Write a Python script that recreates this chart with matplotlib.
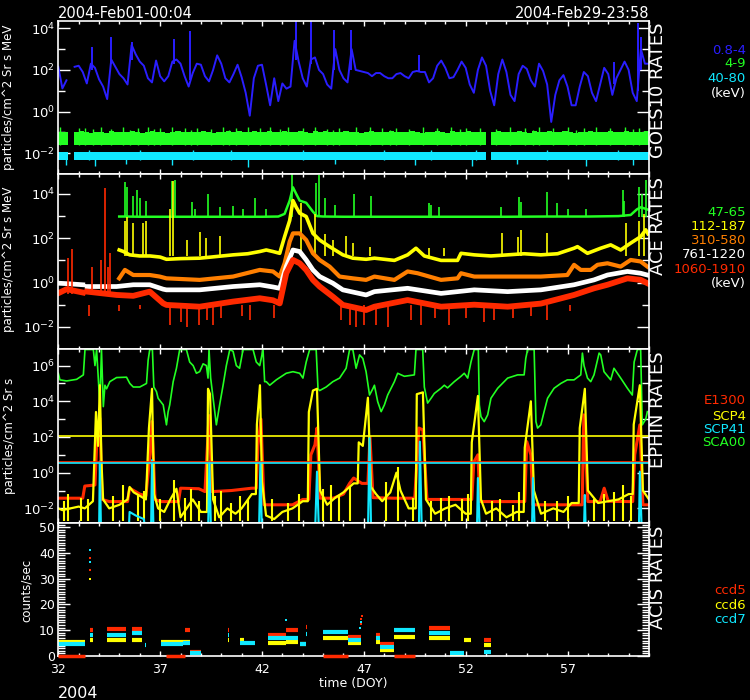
import numpy as np
import matplotlib
matplotlib.use("Agg")
import matplotlib.pyplot as plt
from matplotlib.ticker import FixedLocator, MultipleLocator, NullFormatter, FuncFormatter

nan = np.nan

# ======================= DATA =======================
doy_major_ticks = [32, 37, 42, 47, 52, 57]

# ---- GOES-10 (particles/cm2 Sr s MeV), log10 values ----
goes_time = np.linspace(32.0, 61.0, 146)
goes_p08_4_log10 = [
    2.15, 1.11, 1.5, nan, 2.15, 2.2, 1.9, 1.35, 2.3, 2.1,
    1.55, 1.2, 0.6, 2.5, 2.15, 1.8, 1.6, 1.3, 3.2, 2.75,
    2.4, 2.2, 1.6, 1.4, 2.45, 1.7, 1.45, 1.7, 2.4, 2.5,
    2.3, 1.7, 1.2, 1.85, 2.3, 2.25, 1.7, 1.45, 2.0, 2.7,
    2.3, 1.6, 1.4, 1.8, 2.25, 1.65, 0.9, -0.2, 1.6, 2.2,
    2.25, 1.3, 0.3, 1.6, 0.5, 1.35, 1.1, 1.2, 3.4, 2.4,
    1.6, 1.2, 2.5, 2.6, 2.0, 1.8, 1.3, 1.1, 3.0, 2.0,
    1.6, 1.4, 3.0, 2.0, 1.95, 1.9, 1.85, 1.7, 1.85, 1.85,
    1.7, 1.6, 1.6, 1.8, 1.85, 1.7, 1.6, 1.9, 1.95, 1.9,
    1.9, 1.4, 1.6, 2.2, 2.45, 2.1, 1.6, 1.65, 2.0, 2.4,
    2.1, 1.3, 0.9, 2.0, 2.6, 2.2, 1.0, 0.3, 1.8, 2.5,
    1.9, 0.8, 0.5, 1.8, 2.2, 2.05, 1.5, 1.2, 2.3, 1.95,
    1.3, -0.5, 0.8, 1.5, 1.75, 1.2, 0.3, 0.3, 1.2, 1.9,
    1.7, 0.9, 0.5, 1.3, 2.1, 1.8, 0.8, 1.6, 2.0, 2.4,
    2.0, 0.9, 0.5, 3.0, 2.3, 2.3]
goes_p08_4_spike_time = [33.63, 34.58, 35.62, 37.69, 38.45, 43.65, 44.42, 45.53,
                         46.38, 49.73, 59.29, 60.45, 60.6]
goes_p08_4_spike_lo_log10 = [2.0, 2.3, 2.5, 2.3, 1.5, 2.5, 2.3, 2.0, 2.0, 1.9, 1.3, 1.0, 2.0]
goes_p08_4_spike_hi_log10 = [3.1, 3.6, 3.35, 3.5, 3.85, 4.4, 4.4, 3.9, 3.9, 2.7, 2.4, 4.25, 3.6]

goes_band_time = np.linspace(32.0, 60.75, 116)
goes_4_9_lo = 0.026
goes_4_9_hi_log10 = [
    -0.99, -0.96, nan, -1.0, -0.94, -0.98, -1.02, -0.96,
    -0.97, -1.01, -0.94, -0.99, -0.96, -1.0, -0.95, -0.98,
    -1.01, -0.97, -0.94, -0.99, -0.96, -1.02, -0.98, -0.94,
    -0.97, -1.0, -0.96, -0.99, -0.94, -0.98, -1.01, -0.96,
    -0.99, -0.95, -0.98, -0.94, -1.0, -0.97, -0.93, -0.96,
    -0.98, -0.94, -0.97, -1.0, -0.94, -0.96, -0.99, -0.95,
    -0.97, -1.01, -0.95, -0.98, -0.94, -0.99, -0.96, -1.0,
    -0.94, -0.98, -0.96, -1.01, -0.97, -0.94, -0.99, -0.96,
    -0.98, -0.95, -1.0, -0.96, -0.99, -0.94, -0.97, -1.01,
    -0.96, -0.99, -0.94, -0.98, -1.01, -0.95, -0.97, -1.0,
    -0.94, -0.98, -0.96, -0.99, nan, -0.97, -0.94, -1.0,
    -0.96, -0.99, -0.95, -0.98, -1.01, -0.94, -0.97, -0.99,
    -0.95, -0.98, -1.0, -0.94, -0.97, -1.01, -0.96, -0.99,
    -0.94, -0.98, -0.96, -1.0, -0.95, -0.99, -0.97, -0.94,
    -0.98, -0.96, -1.0, -0.95]
goes_4_9_spike_time = [32.1, 33.0, 33.3, 33.7, 34.1, 34.6, 35.2, 35.5, 35.9, 36.4, 36.7, 37.0,
                       37.6, 38.2, 38.5, 38.8, 39.5, 40.1, 40.4, 40.7, 41.3, 41.9, 42.4, 42.9,
                       43.3, 44.0, 44.6, 45.2, 45.5, 45.8, 46.6, 47.3, 47.9, 48.3, 48.6, 49.2,
                       49.9, 50.6, 51.3, 51.7, 52.0, 52.7, 53.5, 54.2, 54.9, 55.3, 55.6, 56.3,
                       57.0, 57.4, 57.8, 58.4, 59.1, 59.8, 60.2, 60.5]
goes_4_9_spike_hi_log10 = [-0.72, -0.78, -0.8, -0.86, -0.75, -0.82, -0.76, -0.88, -0.8, -0.74,
                           -0.86, -0.79, -0.72, -0.8, -0.87, -0.77, -0.83, -0.76, -0.88, -0.8,
                           -0.73, -0.78, -0.75, -0.86, -0.72, -0.8, -0.76, -0.82, -0.88, -0.78,
                           -0.74, -0.72, -0.8, -0.87, -0.77, -0.82, -0.76, -0.79, -0.74, -0.86,
                           -0.8, -0.77, -0.82, -0.76, -0.8, -0.88, -0.75, -0.79, -0.73, -0.87,
                           -0.8, -0.76, -0.81, -0.74, -0.86, -0.78]
goes_40_80_lo = 0.0049
goes_40_80_hi = 0.0115
goes_40_80_up_time = [33.5, 36.0, 38.6, 40.5, 44.0, 48.0, 50.3, 52.5, 56.0, 59.5]
goes_40_80_up_log10 = [-1.85, -1.87, -1.86, -1.85, -1.84, -1.86, -1.85, -1.87, -1.85, -1.86]
goes_40_80_down_time = [32.4, 33.8, 35.3, 37.6, 41.3, 45.6, 49.5, 52.3, 54.5, 57.9, 60.2]
goes_40_80_down_log10 = [-2.55, -2.6, -2.5, -2.55, -2.65, -2.5, -2.55, -2.6, -2.5, -2.6, -2.55]

# ---- ACE (particles/cm2 Sr s MeV), log10 values ----
ace_47_65_time = [34.99, 35.3, 36.0, 37.0, 38.0, 39.0, 40.0, 41.0, 42.0, 42.8, 43.11, 43.36,
                  43.52, 43.68, 43.85, 44.17, 44.5, 44.7, 45.0, 46.0, 47.0, 48.0, 50.0, 52.0,
                  54.0, 56.0, 58.0, 59.5, 60.1, 60.4, 60.6, 60.92]
ace_47_65_log10 = [2.98, 2.98, 2.97, 2.97, 2.97, 2.97, 2.97, 2.97, 2.97, 2.98, 3.1, 3.7,
                   4.3, 4.0, 3.7, 3.6, 3.2, 3.0, 2.98, 2.97, 2.97, 2.97, 2.97, 2.97,
                   2.97, 2.98, 2.98, 3.0, 3.05, 3.3, 3.4, 3.3]
ace_47_65_spike_time = [35.27, 35.35, 35.68, 35.84, 36.0, 36.33, 37.56, 37.72, 38.54, 38.7,
                        39.35, 39.92, 40.58, 41.07, 41.64, 42.21, 43.45, 44.66, 44.82, 45.07,
                        45.56, 46.54, 47.36, 50.2, 50.3, 50.7, 53.73, 54.63, 54.71, 55.98,
                        56.47, 57.0, 57.9, 59.7, 59.78, 60.51, 60.67, 60.84]
ace_47_65_spike_log10 = [4.56, 4.3, 3.9, 4.2, 3.8, 3.7, 4.6, 4.65, 3.65, 3.3,
                         4.0, 3.4, 3.45, 3.3, 3.8, 3.3, 4.9, 4.5, 4.85, 3.8,
                         3.5, 4.0, 3.9, 3.58, 3.5, 3.4, 3.4, 3.88, 3.65, 4.1,
                         3.6, 3.3, 3.3, 4.2, 3.7, 4.33, 4.0, 4.63]
ace_47_65_base = 950.0

ace_112_187_time = [34.99, 35.2, 35.5, 36.0, 36.5, 37.0, 37.31, 38.0, 38.94, 39.5,
                    40.58, 41.3, 41.89, 42.21, 42.54, 42.87, 43.11, 43.36, 43.52, 43.68,
                    43.85, 44.17, 44.5, 44.83, 45.32, 45.97, 46.46, 47.11, 47.52, 48.5,
                    49.15, 49.56, 49.97, 50.79, 51.6, 51.77, 52.42, 53.24, 54.06, 54.87,
                    55.69, 56.51, 57.32, 57.49, 57.98, 58.63, 59.12, 59.61, 60.1, 60.59,
                    60.84, 60.95]
ace_112_187_log10 = [1.47, 1.4, 1.25, 1.2, 1.2, 1.15, 1.05, 1.08, 1.1, 1.15,
                     1.25, 1.3, 1.4, 1.47, 1.4, 1.32, 2.07, 2.8, 3.7, 3.4,
                     3.13, 2.98, 2.22, 1.92, 1.62, 1.25, 1.1, 1.05, 1.1, 1.0,
                     1.25, 1.55, 1.2, 1.0, 1.0, 1.32, 1.25, 1.2, 1.25, 1.3,
                     1.25, 1.3, 1.55, 1.62, 1.32, 1.55, 1.7, 1.47, 1.78, 2.07,
                     2.38, 2.2]
ace_112_187_spike_time = [35.27, 35.35, 35.68, 36.17, 36.33, 37.48, 37.64, 38.3, 38.94,
                          39.27, 39.92, 43.93, 44.58, 45.07, 45.48, 46.1, 46.46, 47.28,
                          50.22, 50.95, 53.8, 54.55, 54.71, 55.98, 59.85, 60.51, 60.76]
ace_112_187_spike_log10 = [2.8, 2.97, 2.7, 2.68, 2.8, 3.3, 4.6, 1.9, 2.3,
                           2.0, 2.1, 3.6, 3.1, 2.2, 1.9, 2.1, 1.8, 1.6,
                           1.55, 1.55, 2.22, 2.07, 2.38, 2.22, 2.68, 2.8, 3.1]
ace_112_187_base = 15.0

ace_310_580_time = [34.99, 35.27, 35.68, 36.49, 36.98, 37.31, 38.94, 40.58, 41.89, 42.54,
                    42.87, 43.11, 43.36, 43.52, 43.85, 44.17, 44.5, 44.83, 45.32, 45.81,
                    46.46, 47.11, 47.52, 48.5, 49.15, 49.64, 50.79, 51.6, 51.77, 52.42,
                    54.06, 55.69, 56.99, 57.32, 57.65, 58.14, 58.47, 58.96, 59.61, 60.1,
                    60.59, 60.92]
ace_310_580_log10 = [0.19, 0.57, 0.34, 0.34, 0.27, 0.19, 0.12, 0.27, 0.57, 0.5,
                     0.27, 0.87, 1.85, 2.22, 2.22, 1.92, 1.32, 1.02, 0.72, 0.27,
                     0.19, 0.12, 0.27, 0.12, 0.5, 0.42, 0.12, 0.19, 0.42, 0.27,
                     0.27, 0.27, 0.34, 0.8, 0.57, 0.57, 0.8, 0.87, 0.72, 1.02,
                     0.95, 0.72]

ace_low_time = [32.0, 32.41, 33.2, 33.3, 33.42, 34.86, 35.68, 36.49, 37.15, 37.31,
                38.94, 40.58, 41.89, 42.54, 42.87, 43.19, 43.52, 43.85, 44.17, 44.5,
                44.83, 45.48, 45.97, 47.11, 47.52, 49.15, 50.79, 52.42, 54.06, 55.69,
                57.32, 58.3, 58.96, 59.94, 60.59, 60.92]
ace_761_1220_log10 = [-0.03, -0.05, -0.1, nan, -0.18, -0.18, -0.1, -0.1, -0.3, -0.33,
                      -0.33, -0.18, -0.1, -0.2, -0.26, 0.72, 1.47, 1.4, 1.02, 0.57,
                      0.27, -0.03, -0.33, -0.56, -0.41, -0.26, -0.49, -0.33, -0.41, -0.33,
                      -0.1, 0.12, 0.34, 0.5, 0.42, 0.34]
ace_1060_1910_log10 = [-0.48, -0.3, -0.45, nan, -0.41, -0.56, -0.6, -0.41, -0.94, -1.01,
                       -1.09, -0.86, -0.71, -0.8, -0.94, 0.42, 1.02, 0.87, 0.57, 0.12,
                       -0.18, -0.64, -1.01, -1.24, -1.09, -0.79, -1.09, -1.0, -1.09, -0.95,
                       -0.56, -0.26, -0.1, 0.19, 0.12, -0.03]
ace_1060_1910_up_time = [32.49, 32.65, 33.65, 34.08, 34.29, 34.45, 34.53]
ace_1060_1910_up_log10 = [1.1, 1.5, 0.7, 1.0, 4.26, 0.7, 1.32]
ace_1060_1910_down_time = [33.5, 35.0, 36.0, 37.5, 38.0, 38.3, 38.9, 39.3, 39.6, 40.0,
                           41.0, 41.4, 42.6, 45.9, 46.3, 46.6, 47.0, 47.6, 48.2, 49.3,
                           49.8, 50.5, 51.2, 52.0, 52.9, 53.4, 54.3, 55.2, 56.0, 57.1]
ace_1060_1910_down_log10 = [-1.5, -1.3, -1.2, -1.9, -1.8, -2.0, -1.9, -1.7, -1.9, -1.6,
                            -1.5, -1.7, -1.6, -1.7, -1.9, -2.0, -1.9, -1.9, -2.0, -1.7,
                            -1.9, -1.6, -1.9, -1.6, -1.8, -1.7, -1.6, -1.5, -1.7, -1.3]

# ---- EPHIN (particles/cm2 Sr s), log10 values ----
ephin_sca00_time = [32.0, 32.08, 32.41, 32.9, 33.23, 33.31, 33.72, 33.8, 33.88, 34.04,
                    34.12, 34.21, 34.29, 34.37, 34.53, 34.86, 35.35, 35.51, 35.68, 36.0,
                    36.33, 36.41, 36.49, 36.62, 36.69, 36.82, 36.9, 37.15, 37.31, 37.39,
                    37.47, 37.64, 37.8, 37.96, 38.29, 38.45, 38.62, 38.78, 38.94, 39.11,
                    39.27, 39.35, 39.4, 39.48, 39.6, 39.76, 39.92, 40.09, 40.25, 40.42,
                    40.58, 40.74, 40.9, 41.07, 41.56, 41.72, 41.89, 42.05, 42.13, 42.21,
                    42.38, 42.7, 43.19, 43.52, 43.85, 44.01, 44.17, 44.34, 44.66, 44.75,
                    44.83, 45.15, 45.48, 45.81, 46.13, 46.3, 46.46, 46.62, 46.79, 46.95,
                    47.11, 47.28, 47.44, 47.52, 47.68, 47.85, 48.01, 48.17, 48.5, 48.66,
                    48.99, 49.48, 49.56, 49.89, 49.97, 50.13, 50.3, 50.46, 50.79, 50.95,
                    51.11, 51.44, 51.77, 51.93, 52.1, 52.26, 52.42, 52.62, 52.67, 52.75,
                    52.91, 53.08, 53.24, 53.57, 54.06, 54.55, 54.87, 54.95, 55.04, 55.36,
                    55.45, 55.53, 55.69, 55.85, 56.02, 56.34, 56.67, 56.99, 57.32, 57.65,
                    57.73, 57.81, 57.98, 58.14, 58.3, 58.55, 58.63, 58.79, 59.12, 59.28,
                    59.61, 59.94, 60.18, 60.27, 60.43, 60.59, 60.67, 60.84, 60.92]
ephin_sca00_log10 = [5.57, 5.2, 5.14, 5.23, 5.48, 6.9, 6.9, 6.0, 6.9, 3.8,
                     6.9, 3.7, 4.9, 4.7, 5.1, 5.33, 5.35, 5.0, 4.8, 4.8,
                     5.0, 6.3, 6.9, 6.9, 4.8, 4.54, 4.17, 3.8, 2.68, 3.4,
                     3.8, 5.1, 5.85, 6.9, 6.9, 6.2, 6.0, 5.57, 5.66, 6.1,
                     6.0, 5.3, 6.9, 5.3, 4.17, 2.68, 3.8, 4.9, 6.0, 6.9,
                     6.8, 6.0, 5.85, 6.9, 6.9, 6.2, 6.0, 6.9, 5.1, 5.1,
                     4.9, 5.2, 5.57, 5.66, 5.57, 5.3, 6.2, 6.9, 6.9, 4.7,
                     4.6, 4.8, 5.1, 5.3, 5.85, 6.9, 6.9, 5.85, 6.6, 6.4,
                     5.66, 4.35, 4.7, 4.9, 3.98, 3.42, 3.8, 4.35, 5.1, 5.57,
                     5.4, 5.48, 6.9, 6.9, 4.8, 3.9, 4.17, 4.44, 4.73, 4.9,
                     4.75, 5.1, 5.4, 5.57, 5.3, 6.2, 6.9, 6.9, 3.8, 3.14,
                     2.86, 3.24, 4.17, 4.73, 5.3, 5.48, 5.48, 6.4, 6.9, 6.9,
                     2.86, 2.5, 2.68, 3.42, 4.17, 4.73, 5.0, 5.2, 5.2, 5.48,
                     6.7, 6.0, 5.3, 5.1, 5.48, 6.7, 6.6, 5.66, 5.2, 5.85,
                     5.3, 4.73, 4.35, 6.2, 6.9, 6.9, 2.68, 3.0, 3.42]

ephin_scp4_time = [32.0, 32.2, 32.6, 33.0, 33.3, 33.6, 33.7, 33.85, 33.95, 34.04,
                   34.12, 34.2, 34.5, 35.0, 35.4, 35.5, 35.7, 36.0, 36.3, 36.45,
                   36.6, 36.7, 36.9, 37.2, 37.5, 37.8, 38.0, 38.3, 38.6, 39.0,
                   39.3, 39.35, 39.45, 39.6, 39.9, 40.3, 40.7, 41.0, 41.5, 41.7,
                   41.75, 41.9, 42.0, 42.2, 42.6, 43.0, 43.5, 44.0, 44.25, 44.3,
                   44.5, 44.7, 44.85, 45.2, 45.6, 46.0, 46.5, 46.7, 46.75, 46.95,
                   47.2, 47.35, 47.6, 47.9, 48.3, 48.6, 48.8, 49.2, 49.55, 49.6,
                   49.9, 50.05, 50.5, 51.0, 51.5, 52.0, 52.25, 52.3, 52.6, 52.75,
                   53.0, 53.5, 54.0, 54.5, 54.85, 54.9, 55.2, 55.35, 55.7, 56.3,
                   56.8, 57.2, 57.55, 57.6, 57.85, 58.0, 58.5, 59.0, 59.5, 60.0,
                   60.2, 60.25, 60.55, 60.7, 61.0]
ephin_scp4_log10 = [-2.0, -2.1, -2.0, -1.9, -2.0, -1.7, -1.6, 3.4, 1.5, 4.9,
                    0.6, -1.5, -2.0, -1.8, -1.5, -0.8, -1.1, -1.3, -1.5, 2.5,
                    4.7, -1.2, -2.0, -2.2, -1.5, -0.9, -2.5, -2.0, -1.5, -2.2,
                    -2.2, 4.7, 4.4, -1.5, -2.5, -2.0, -2.3, -2.0, -1.2, -1.2,
                    2.7, 4.9, -0.5, -2.4, -2.6, -2.2, -2.0, -1.6, -1.6, 3.4,
                    4.6, 4.7, -1.0, -1.8, -1.4, -1.1, -0.6, -0.6, 1.7, 1.5,
                    4.2, -0.8, -1.2, -1.6, -1.1, 0.0, -1.0, -2.0, -2.0, 4.4,
                    4.5, -1.5, -2.3, -2.0, -1.8, -2.3, -2.3, 1.7, 4.3, -1.5,
                    -2.3, -2.0, -2.5, -2.2, -2.2, 1.4, 4.0, -1.0, -2.3, -2.0,
                    -2.2, -1.7, -1.7, 2.5, 4.7, -1.0, -1.7, -1.6, -1.5, -1.2,
                    -1.2, 2.7, 4.9, -1.0, -1.5]
ephin_scp4_noise_time = [32.3, 32.5, 33.1, 33.45, 34.7, 35.2, 35.9, 36.2, 37.0, 37.7,
                         38.2, 38.5, 38.9, 39.7, 40.0, 40.5, 40.9, 41.3, 42.5, 43.3,
                         43.8, 45.0, 45.4, 45.8, 46.3, 48.1, 48.7, 49.4, 50.3, 50.8,
                         51.2, 51.8, 52.1, 53.3, 53.7, 54.3, 54.6, 55.9, 56.5, 57.0,
                         58.3, 58.8, 59.3, 59.7, 60.1]
ephin_scp4_noise_log10 = [-1.6, -1.2, -1.4, -1.5, -1.3, -0.7, -1.2, -1.0, -1.5, -0.4,
                          -1.4, -0.9, -1.6, -1.3, -1.0, -1.7, -1.3, -1.5, -1.5, -1.7,
                          -1.2, -0.9, -0.7, -1.3, -0.8, -0.5, 0.3, -1.4, -1.6, -1.4,
                          -1.3, -1.5, -1.2, -1.6, -1.5, -1.8, -1.1, -1.6, -1.6, -1.3,
                          -1.5, -1.2, -1.1, -0.7, -1.3]

ephin_e1300_time = [32.0, 33.2, 33.3, 33.8, 33.9, 34.04, 34.15, 34.5, 35.4, 35.5,
                    35.7, 36.0, 36.3, 36.5, 36.6, 36.75, 37.0, 37.9, 38.0, 38.9,
                    39.2, 39.4, 39.55, 40.5, 41.5, 41.72, 41.8, 41.95, 42.1, 43.5,
                    44.0, 44.3, 44.4, 44.6, 44.7, 44.85, 45.5, 46.0, 46.3, 46.5,
                    46.9, 47.2, 47.3, 47.45, 48.5, 49.5, 49.7, 49.9, 50.1, 51.5,
                    52.3, 52.4, 52.6, 52.7, 54.0, 54.9, 55.0, 55.2, 55.3, 57.5,
                    57.72, 57.8, 58.0, 58.6, 58.8, 59.0, 60.0, 60.2, 60.3, 60.55,
                    60.7, 61.0]
ephin_e1300_log10 = [-1.43, -1.43, -0.75, -0.69, 2.0, 3.05, -1.5, -1.62, -1.62, -0.87,
                     -1.0, -1.2, -1.3, 1.0, 2.86, -1.5, -1.62, -1.62, -0.87, -0.9,
                     -1.06, 3.2, -1.06, -1.0, -0.87, -0.87, 1.5, 3.0, -1.8, -1.8,
                     -1.5, -1.5, 1.0, 1.56, 2.5, -1.43, -1.43, -1.2, -0.6, -0.3,
                     -0.6, -0.6, 2.0, -1.4, -1.43, -1.43, 2.5, 2.4, -1.5, -1.5,
                     -1.5, 0.6, 1.0, -1.62, -1.62, -1.62, 1.74, 1.0, -1.8, -1.8,
                     -1.8, 3.24, -1.62, -1.62, -0.87, -1.6, -1.62, -1.62, 1.0, 2.68,
                     -1.8, -1.8]

ephin_scp41_time = [32.0, 34.0, 34.04, 34.1, 35.45, 35.5, 35.8, 36.2, 36.3, 36.55,
                    36.6, 36.68, 39.35, 39.42, 39.5, 41.85, 41.92, 42.0, 44.6, 44.7,
                    44.8, 47.2, 47.28, 47.36, 49.7, 49.75, 49.85, 52.55, 52.6, 52.7,
                    55.25, 55.3, 55.4, 57.8, 57.85, 57.9, 60.5, 60.55, 60.65, 61.0]
ephin_scp41_log10 = [-3.5, -3.5, 0.62, -3.5, -3.5, -2.2, -2.4, -2.6, -3.5, -3.5,
                     0.7, -3.5, -3.5, 0.62, -3.5, -3.5, 0.62, -3.5, -3.5, 0.06,
                     -3.5, -3.5, 1.93, -3.5, -3.5, 1.74, -3.5, -3.5, -0.3, -3.5,
                     -3.5, -0.3, -3.5, -3.5, -1.25, -3.5, -3.5, 0.06, -3.5, -3.5]
ephin_scp4_limit = 115.0
ephin_e1300_limit = 4.0
ephin_scp41_limit = 3.4

# ---- ACIS (counts/sec) : segments start, end, rate ----
acis_ccd5_start = [33.55, 34.37, 35.6, 38.2, 38.45, 40.33, 42.29, 43.19, 44.17, 46.22, 47.6, 47.8, 50.2, 52.9]
acis_ccd5_end = [33.68, 35.32, 36.1, 38.45, 39.0, 40.36, 43.19, 43.76, 44.2, 46.87, 47.77, 48.5, 51.25, 53.24]
acis_ccd5_rate = [10.2, 10.4, 10.5, 10.0, 1.6, 10.0, 8.0, 10.0, 11.2, 7.4, 8.0, 4.8, 11.0, 6.1]
acis_ccd6_start = [32.0, 33.55, 34.37, 35.6, 37.03, 38.45, 40.33, 40.94, 42.29, 43.19,
                   43.85, 44.99, 46.22, 47.6, 47.8, 48.5, 50.2, 51.25, 51.93, 52.9]
acis_ccd6_end = [33.3, 33.68, 35.32, 36.1, 38.45, 39.0, 40.36, 41.1, 43.19, 43.76,
                 44.14, 46.22, 46.87, 47.77, 48.5, 49.5, 51.25, 51.9, 52.26, 53.24]
acis_ccd6_rate = [5.6, 6.4, 6.1, 6.1, 5.5, 1.3, 6.3, 6.1, 5.1, 5.5,
                  4.8, 7.1, 5.1, 5.5, 2.5, 7.4, 6.8, 0.4, 6.1, 4.2]
acis_ccd7_start = [32.0, 33.55, 34.37, 35.6, 36.27, 37.03, 38.1, 38.45, 39.73, 40.33,
                   40.94, 42.29, 43.19, 43.85, 44.17, 44.99, 46.22, 47.6, 47.8, 48.5,
                   50.2, 51.25, 52.9]
acis_ccd7_end = [33.3, 33.68, 35.32, 36.1, 36.3, 38.1, 38.45, 39.0, 39.76, 40.36,
                 41.64, 43.19, 43.76, 44.14, 44.2, 46.22, 46.87, 47.77, 48.5, 49.5,
                 51.25, 51.9, 53.24]
acis_ccd7_rate = [4.6, 8.3, 8.3, 9.0, 4.2, 4.6, 5.0, 1.0, 8.6, 8.3,
                  5.1, 6.8, 7.1, 4.6, 8.7, 9.3, 6.1, 6.8, 3.6, 10.0,
                  8.9, 1.3, 1.7]
acis_ccd5_zero_start = [32.0, 37.3, 44.99, 48.5]
acis_ccd5_zero_end = [33.3, 38.2, 46.22, 49.5]
acis_ccd5_pt_time = [33.55, 33.55, 46.85, 46.88, 46.9]
acis_ccd5_pt_rate = [38.0, 33.5, 12.5, 14.5, 15.5]
acis_ccd6_pt_time = [33.55]
acis_ccd6_pt_rate = [29.7]
acis_ccd7_pt_time = [33.55, 33.55, 43.19, 46.83, 46.86]
acis_ccd7_pt_rate = [41.0, 36.4, 13.8, 11.0, 13.0]

# ======================= STYLE =======================
BLUE = '#2a1eff'
GREEN = '#22ff22'
CYAN = '#10e8ff'
YELLOW = '#ffff00'
ORANGE = '#ff7f00'
RED = '#ff2a00'
WHITE = 'white'

W_PX, H_PX = 750, 700
fig = plt.figure(figsize=(7.5, 7.0), dpi=100, facecolor='black')
LEFT, RIGHT = 58.3, 649.0


def make_ax(top, bottom):
    ax = fig.add_axes([LEFT / W_PX, 1 - bottom / H_PX, (RIGHT - LEFT) / W_PX, (bottom - top) / H_PX])
    ax.set_facecolor('black')
    for s in ax.spines.values():
        s.set_color('white')
        s.set_linewidth(1.2)
        s.set_zorder(5)
    ax.set_xlim(32, 61)
    ax.xaxis.set_major_locator(FixedLocator(doy_major_ticks))
    ax.xaxis.set_minor_locator(MultipleLocator(1))
    ax.tick_params(axis='both', which='both', direction='in', colors='white',
                   top=True, right=True, width=1.0, labelsize=9)
    ax.tick_params(axis='x', which='major', length=3.8, pad=5)
    ax.tick_params(axis='x', which='minor', length=2.2)
    ax.tick_params(axis='y', which='major', length=8.3, pad=2.5)
    ax.tick_params(axis='y', which='minor', length=4.7)
    ax.tick_params(axis='x', labelbottom=False)
    return ax


def log_axis(ax, lo, hi, majors, minors):
    ax.set_yscale('log')
    ax.set_ylim(lo, hi)
    ax.yaxis.set_major_locator(FixedLocator(majors))
    ax.yaxis.set_minor_locator(FixedLocator(minors))
    ax.yaxis.set_major_formatter(FuncFormatter(lambda v, p: r'$10^{%d}$' % int(round(np.log10(v)))))
    ax.yaxis.set_minor_formatter(NullFormatter())
    ax.tick_params(axis='y', which='major', labelsize=9.5)


def p10(a):
    return 10.0 ** np.asarray(a, dtype=float)


# ---------------- GOES ----------------
ax1 = make_ax(21, 174)
log_axis(ax1, 10 ** -3.0, 10 ** 4.35, [1e-2, 1, 1e2, 1e4], [1e-1, 1e1, 1e3])
ax1.plot(goes_time, p10(goes_p08_4_log10), color=BLUE, lw=1.4, zorder=3)
ax1.vlines(goes_p08_4_spike_time, p10(goes_p08_4_spike_lo_log10), p10(goes_p08_4_spike_hi_log10),
           color=BLUE, lw=1.4, zorder=3)
g_hi = p10(goes_4_9_hi_log10)
valid = np.isfinite(g_hi)
ax1.bar(goes_band_time[valid], g_hi[valid] - goes_4_9_lo, bottom=goes_4_9_lo, width=0.25,
        align='edge', color=GREEN, linewidth=0, zorder=3)
ax1.vlines(goes_4_9_spike_time, goes_4_9_lo, p10(goes_4_9_spike_hi_log10), color=GREEN, lw=1.0, zorder=3)
ax1.bar(goes_band_time[valid], np.full(valid.sum(), goes_40_80_hi - goes_40_80_lo), bottom=goes_40_80_lo,
        width=0.25, align='edge', color=CYAN, linewidth=0, zorder=3)
ax1.vlines(goes_40_80_up_time, goes_40_80_lo, p10(goes_40_80_up_log10), color=CYAN, lw=1.0, zorder=3)
ax1.vlines(goes_40_80_down_time, p10(goes_40_80_down_log10), goes_40_80_hi, color=CYAN, lw=1.0, zorder=3)

# ---------------- ACE ----------------
ax2 = make_ax(174, 349)
log_axis(ax2, 10 ** -3.0, 10 ** 4.9, [1e-2, 1, 1e2, 1e4], [1e-1, 1e1, 1e3])
ax2.plot(ace_47_65_time, p10(ace_47_65_log10), color=GREEN, lw=1.8, zorder=3)
ax2.vlines(ace_47_65_spike_time, ace_47_65_base, p10(ace_47_65_spike_log10), color=GREEN, lw=1.2, zorder=3)
ax2.plot(ace_112_187_time, p10(ace_112_187_log10), color=YELLOW, lw=2.6, zorder=3)
ax2.vlines(ace_112_187_spike_time, ace_112_187_base, p10(ace_112_187_spike_log10), color=YELLOW, lw=1.2, zorder=3)
ax2.plot(ace_310_580_time, p10(ace_310_580_log10), color=ORANGE, lw=3.0, zorder=3)
ax2.plot(ace_low_time, p10(ace_761_1220_log10), color=WHITE, lw=3.4, zorder=3)
ax2.plot(ace_low_time, p10(ace_1060_1910_log10), color=RED, lw=4.2, zorder=3)
ax2.vlines(ace_1060_1910_up_time, 0.3, p10(ace_1060_1910_up_log10), color=RED, lw=1.2, zorder=3)
ax2.vlines(ace_1060_1910_down_time, p10(ace_1060_1910_down_log10), 0.1, color=RED, lw=1.2, zorder=3)

# ---------------- EPHIN ----------------
ax3 = make_ax(349, 523)
log_axis(ax3, 10 ** -2.82, 10 ** 6.93, [1e-2, 1, 1e2, 1e4, 1e6], [1e-1, 1e1, 1e3, 1e5])
ax3.plot(ephin_sca00_time, p10(ephin_sca00_log10), color=GREEN, lw=1.2, zorder=3)
ax3.plot(ephin_e1300_time, p10(ephin_e1300_log10), color=RED, lw=2.2, zorder=3)
ax3.plot(ephin_scp4_time, p10(ephin_scp4_log10), color=YELLOW, lw=1.6, zorder=3)
ax3.vlines(ephin_scp4_noise_time, 10 ** -2.7, p10(ephin_scp4_noise_log10), color=YELLOW, lw=1.5, zorder=3)
ax3.plot(ephin_scp41_time, p10(ephin_scp41_log10), color=CYAN, lw=1.5, zorder=3)
ax3.axhline(ephin_scp4_limit, color=YELLOW, lw=1.2, zorder=4)
ax3.axhline(ephin_e1300_limit, color=RED, lw=1.2, zorder=4)
ax3.axhline(ephin_scp41_limit, color=CYAN, lw=1.2, zorder=4)

# ---------------- ACIS ----------------
ax4 = make_ax(523, 656)
ax4.set_ylim(0, 51.6)
ax4.yaxis.set_major_locator(MultipleLocator(10))
ax4.yaxis.set_minor_locator(MultipleLocator(1))
ax4.tick_params(axis='x', labelbottom=True)
ax4.hlines(acis_ccd5_rate, acis_ccd5_start, acis_ccd5_end, color=RED, lw=3, zorder=3)
ax4.hlines(acis_ccd6_rate, acis_ccd6_start, acis_ccd6_end, color=YELLOW, lw=3, zorder=3)
ax4.hlines(acis_ccd7_rate, acis_ccd7_start, acis_ccd7_end, color=CYAN, lw=3, zorder=3)
ax4.hlines(np.zeros(len(acis_ccd5_zero_start)), acis_ccd5_zero_start, acis_ccd5_zero_end,
           color=RED, lw=2.5, zorder=6, clip_on=False)
ax4.scatter(acis_ccd5_pt_time, acis_ccd5_pt_rate, s=4, marker='s', color=RED, linewidths=0, zorder=4)
ax4.scatter(acis_ccd6_pt_time, acis_ccd6_pt_rate, s=4, marker='s', color=YELLOW, linewidths=0, zorder=4)
ax4.scatter(acis_ccd7_pt_time, acis_ccd7_pt_rate, s=4, marker='s', color=CYAN, linewidths=0, zorder=4)


# ======================= TEXT =======================
def ftext(x, y, s, **kw):
    kw.setdefault('color', 'white')
    fig.text(x / W_PX, 1 - y / H_PX, s, **kw)


ftext(58, 14, '2004-Feb01-00:04', fontsize=10.5, ha='left', va='center')
ftext(649, 14, '2004-Feb29-23:58', fontsize=10.5, ha='right', va='center')
ftext(353.6, 683, 'time (DOY)', fontsize=9, ha='center', va='center')
ftext(58, 693, '2004', fontsize=11.5, ha='left', va='center')

ftext(9, 97.5, 'particles/cm^2 Sr s MeV', fontsize=8.5, rotation=90, ha='center', va='center')
ftext(9, 259, 'particles/cm^2 Sr s MeV', fontsize=8.5, rotation=90, ha='center', va='center')
ftext(10, 436, 'particles/cm^2 Sr s', fontsize=8.5, rotation=90, ha='center', va='center')
ftext(26, 590, 'counts/sec', fontsize=8.5, rotation=90, ha='center', va='center')

for top, label in [(22, 'GOES10 RATES'), (177, 'ACE RATES'), (351, 'EPHIN RATES'), (526, 'ACIS RATES')]:
    ftext(658, top, label, fontsize=13, rotation=90, ha='center', va='top')

legend_rows = [
    (50, '0.8-4', BLUE), (63.5, '4-9', GREEN), (78.5, '40-80', CYAN), (93, '(keV)', WHITE),
    (212.7, '47-65', GREEN), (226.7, '112-187', YELLOW), (240.7, '310-580', ORANGE),
    (255, '761-1220', WHITE), (269, '1060-1910', RED), (283, '(keV)', WHITE),
    (401, 'E1300', RED), (416, 'SCP4', YELLOW), (429.3, 'SCP41', CYAN), (442.7, 'SCA00', GREEN),
    (590.7, 'ccd5', RED), (605.7, 'ccd6', YELLOW), (619.3, 'ccd7', CYAN),
]
for y, s, c in legend_rows:
    ftext(746, y, s, color=c, fontsize=9.5, ha='right', va='center')

fig.savefig('out.png', dpi=100, facecolor='black')
